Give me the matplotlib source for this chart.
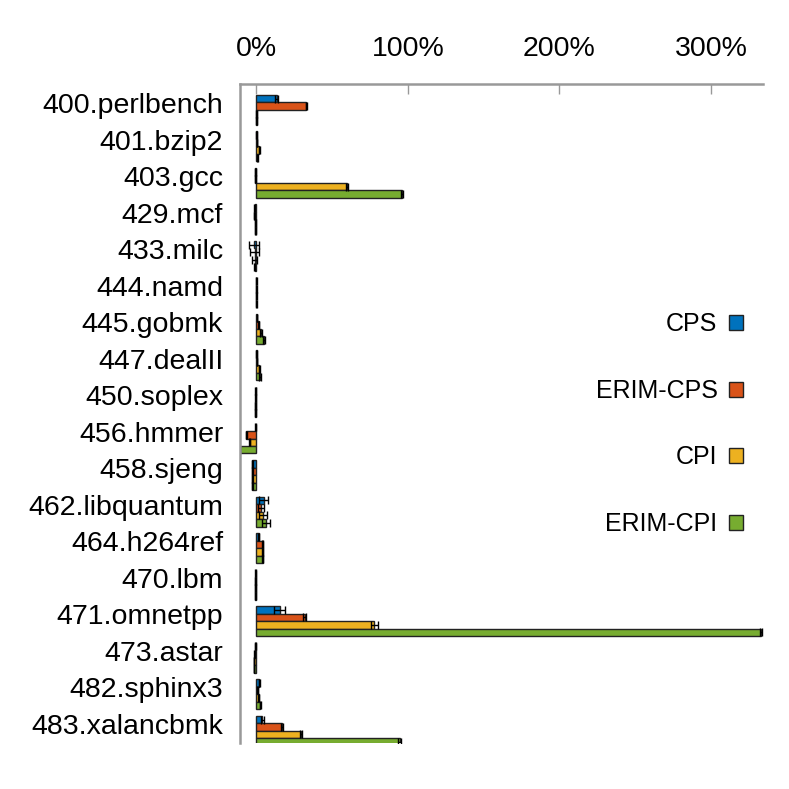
import numpy as np
import matplotlib
matplotlib.use('Agg')
from matplotlib import pyplot as plt
from matplotlib.ticker import FuncFormatter

benchmarks = ['400.perlbench', '401.bzip2', '403.gcc', '429.mcf', '433.milc',
              '444.namd', '445.gobmk', '447.dealII', '450.soplex', '456.hmmer',
              '458.sjeng', '462.libquantum', '464.h264ref', '470.lbm',
              '471.omnetpp', '473.astar', '482.sphinx3', '483.xalancbmk']

series_names = ['CPS', 'ERIM-CPS', 'CPI', 'ERIM-CPI']

# overhead in percent
cps      = [13.5, 0.3, -0.5, -1.0, -1.5, 0.1, 0.5, 0.2, -0.3, -0.3, -2.5, 5.0, 1.7, -0.3, 15.5, -0.5, 2.0, 4.0]
erim_cps = [33.0, 0.5, -0.5, -1.2, -1.0, 0.1, 1.7, 0.5, -0.3, -6.6, -2.5, 3.2, 4.4, -0.5, 32.0, -1.0, 1.0, 17.0]
cpi      = [0.2, 2.0, 59.8, -0.5, -1.0, 0.1, 3.3, 2.0, -0.5, -4.4, -2.5, 4.3, 4.4, -0.5, 78.0, -1.5, 1.5, 29.5]
erim_cpi = [0.2, 0.8, 96.0, -0.5, -1.0, 0.1, 5.0, 2.6, -0.5, -10.8, -2.5, 6.6, 4.4, -0.5, 333.0, -1.5, 2.6, 94.5]

# error bars (percent)
cps_err      = [1.0, 0.3, 0.3, 0.5, 3.0, 0.2, 0.3, 0.3, 0.3, 0.3, 0.5, 3.0, 0.3, 0.3, 3.5, 0.3, 0.5, 0.8]
erim_cps_err = [0.5, 0.3, 0.3, 0.5, 3.0, 0.2, 0.3, 0.3, 0.3, 0.3, 0.5, 2.0, 0.3, 0.3, 1.0, 0.3, 0.3, 0.7]
cpi_err      = [0.3, 0.5, 0.5, 0.5, 1.5, 0.2, 0.5, 0.3, 0.3, 0.3, 0.5, 2.5, 0.3, 0.3, 2.5, 0.3, 0.3, 0.7]
erim_cpi_err = [0.3, 0.3, 0.7, 0.5, 0.5, 0.2, 0.5, 0.5, 0.3, 0.3, 0.5, 2.5, 0.3, 0.3, 0.7, 0.3, 0.3, 0.7]

colors = ['#0072BD', '#D95319', '#EDB120', '#77AC30']

plt.rcParams['font.family'] = ['Liberation Sans', 'DejaVu Sans']

fig = plt.figure(figsize=(7.89, 7.89), dpi=100)
ax = fig.add_axes([0.304, 0.0583, 0.663, 0.8352])

y = np.arange(len(benchmarks))
h = 0.205
values = [cps, erim_cps, cpi, erim_cpi]
errs = [cps_err, erim_cps_err, cpi_err, erim_cpi_err]
for k in range(4):
    ax.barh(y + (k - 0.6) * h, values[k], height=h, color=colors[k],
            edgecolor='#222222', linewidth=1.0, label=series_names[k],
            xerr=errs[k], error_kw=dict(ecolor='black', elinewidth=1.0,
                                        capsize=2.7, capthick=1.0))

ax.set_ylim(len(benchmarks) - 0.48, -0.52)
ax.set_xlim(-10.8, 334.2)
ax.set_yticks(y)
ax.set_yticklabels(benchmarks)
ax.set_xticks([0, 100, 200, 300])
ax.xaxis.set_major_formatter(FuncFormatter(lambda v, p: '%d%%' % v))
ax.xaxis.tick_top()
ax.tick_params(axis='x', direction='in', length=7, width=1, color='#999999',
               labelsize=20.5, pad=16)
ax.tick_params(axis='y', length=0, labelsize=20.5, pad=12)
for s in ['right', 'bottom']:
    ax.spines[s].set_visible(False)
for s in ['left', 'top']:
    ax.spines[s].set_color('#999999')
    ax.spines[s].set_linewidth(1.8)

leg = ax.legend(loc='upper right', bbox_to_anchor=(755 / 789, 1 - 300 / 789),
                bbox_transform=fig.transFigure, frameon=False, markerfirst=False,
                fontsize=18, handlelength=0.55, handleheight=0.55,
                handletextpad=0.45, labelspacing=1.7, borderpad=0)
for t in leg.get_texts():
    t.set_ha('right')

fig.savefig('out.png', dpi=100)
